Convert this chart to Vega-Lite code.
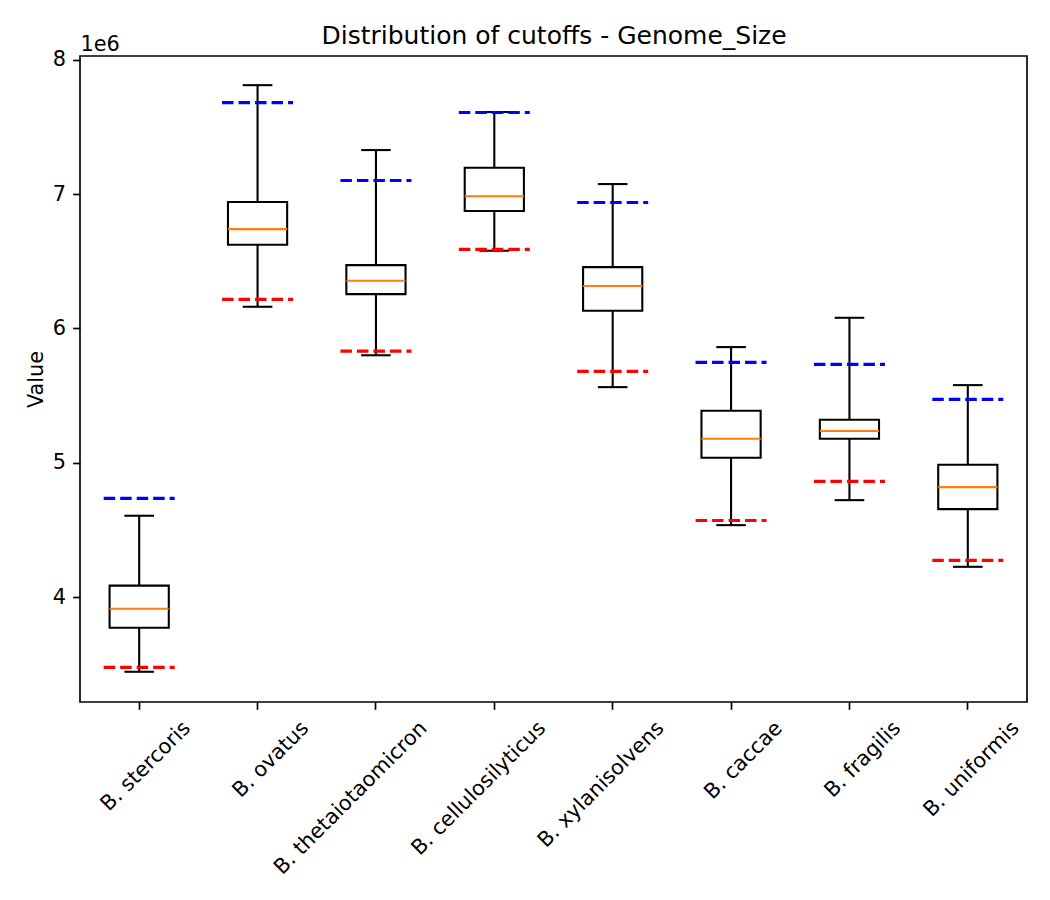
{
  "$schema": "https://vega.github.io/schema/vega-lite/v6.json",
  "width": 947,
  "height": 646,
  "autosize": {"type": "none"},
  "padding": {"left": 80, "top": 56, "right": 23, "bottom": 198},
  "background": "white",
  "data": {
    "values": [
      {"species": "B. stercoris", "whisker_lo": 3445000, "q1": 3772000, "median": 3914000, "q3": 4086000, "whisker_hi": 4606000, "cutoff_lo": 3478000, "cutoff_hi": 4735000},
      {"species": "B. ovatus", "whisker_lo": 6161000, "q1": 6622000, "median": 6739000, "q3": 6940000, "whisker_hi": 7810000, "cutoff_lo": 6216000, "cutoff_hi": 7680000},
      {"species": "B. thetaiotaomicron", "whisker_lo": 5800000, "q1": 6255000, "median": 6354000, "q3": 6471000, "whisker_hi": 7327000, "cutoff_lo": 5831000, "cutoff_hi": 7101000},
      {"species": "B. cellulosilyticus", "whisker_lo": 6578000, "q1": 6873000, "median": 6984000, "q3": 7195000, "whisker_hi": 7610000, "cutoff_lo": 6588000, "cutoff_hi": 7607000},
      {"species": "B. xylanisolvens", "whisker_lo": 5563000, "q1": 6131000, "median": 6315000, "q3": 6456000, "whisker_hi": 7074000, "cutoff_lo": 5680000, "cutoff_hi": 6937000},
      {"species": "B. caccae", "whisker_lo": 4536000, "q1": 5037000, "median": 5179000, "q3": 5387000, "whisker_hi": 5861000, "cutoff_lo": 4571000, "cutoff_hi": 5747000},
      {"species": "B. fragilis", "whisker_lo": 4722000, "q1": 5179000, "median": 5236000, "q3": 5320000, "whisker_hi": 6079000, "cutoff_lo": 4862000, "cutoff_hi": 5732000},
      {"species": "B. uniformis", "whisker_lo": 4226000, "q1": 4655000, "median": 4819000, "q3": 4985000, "whisker_hi": 5578000, "cutoff_lo": 4274000, "cutoff_hi": 5472000}
    ]
  },
  "config": {
    "font": "DejaVu Sans",
    "view": {"stroke": "#000000", "strokeWidth": 1.67},
    "axis": {
      "domain": false,
      "grid": false,
      "tickColor": "#000000",
      "tickWidth": 1.67,
      "tickSize": 7.3,
      "labelColor": "#000000",
      "labelFont": "DejaVu Sans",
      "labelFontSize": 20.83,
      "titleFont": "DejaVu Sans",
      "titleFontSize": 20.83,
      "titleFontWeight": "normal",
      "titleColor": "#000000"
    }
  },
  "resolve": {"axis": {"x": "independent", "y": "independent"}},
  "layer": [
    {
      "mark": {"type": "rule", "stroke": "#000000", "strokeWidth": 2.08},
      "encoding": {
        "x": {
          "field": "species", "type": "nominal", "sort": null, "bandPosition": 0.5,
          "scale": {"type": "band", "paddingInner": 0, "paddingOuter": 0},
          "axis": {
            "orient": "bottom",
            "title": null,
            "bandPosition": 0.5,
            "labelAngle": -45,
            "labelAlign": "right",
            "labelBaseline": "middle",
            "labelOffset": 48,
            "labelPadding": 15.4,
            "labelOverlap": false,
            "labelFlush": false,
            "labelLimit": 500
          }
        },
        "y": {
          "field": "whisker_lo", "type": "quantitative",
          "scale": {"domain": [3220000, 8027000], "nice": false, "zero": false},
          "axis": {
            "orient": "left",
            "values": [4000000, 5000000, 6000000, 7000000, 8000000],
            "labelExpr": "format(datum.value / 1e6, 'd')",
            "labelPadding": 7.3,
            "title": "Value",
            "titleAngle": -90,
            "titleAlign": "center",
            "titleBaseline": "alphabetic",
            "titleX": -38,
            "titleY": 323
          }
        },
        "y2": {"field": "q1"}
      }
    },
    {
      "mark": {"type": "rule", "stroke": "#000000", "strokeWidth": 2.08},
      "encoding": {
        "x": {"field": "species", "type": "nominal", "sort": null, "bandPosition": 0.5, "scale": {"type": "band"}, "axis": null},
        "y": {"field": "q3", "type": "quantitative", "axis": null},
        "y2": {"field": "whisker_hi"}
      }
    },
    {
      "mark": {"type": "rect", "filled": false, "stroke": "#000000", "strokeWidth": 2.08},
      "encoding": {
        "x": {"field": "species", "type": "nominal", "sort": null, "bandPosition": 0.25, "scale": {"type": "band"}, "axis": null},
        "x2": {"field": "species", "bandPosition": 0.75},
        "y": {"field": "q1", "type": "quantitative", "axis": null},
        "y2": {"field": "q3"}
      }
    },
    {
      "mark": {"type": "rule", "stroke": "#000000", "strokeWidth": 2.08},
      "encoding": {
        "x": {"field": "species", "type": "nominal", "sort": null, "bandPosition": 0.375, "scale": {"type": "band"}, "axis": null},
        "x2": {"field": "species", "bandPosition": 0.625},
        "y": {"field": "whisker_lo", "type": "quantitative", "axis": null}
      }
    },
    {
      "mark": {"type": "rule", "stroke": "#000000", "strokeWidth": 2.08},
      "encoding": {
        "x": {"field": "species", "type": "nominal", "sort": null, "bandPosition": 0.375, "scale": {"type": "band"}, "axis": null},
        "x2": {"field": "species", "bandPosition": 0.625},
        "y": {"field": "whisker_hi", "type": "quantitative", "axis": null}
      }
    },
    {
      "mark": {"type": "rule", "stroke": "#ff7f0e", "strokeWidth": 2.08},
      "encoding": {
        "x": {"field": "species", "type": "nominal", "sort": null, "bandPosition": 0.25, "scale": {"type": "band"}, "axis": null},
        "x2": {"field": "species", "bandPosition": 0.75},
        "y": {"field": "median", "type": "quantitative", "axis": null}
      }
    },
    {
      "mark": {"type": "rule", "stroke": "#ff0000", "strokeWidth": 3.1, "strokeDash": [11.5, 5]},
      "encoding": {
        "x": {"field": "species", "type": "nominal", "sort": null, "bandPosition": 0.2, "scale": {"type": "band"}, "axis": null},
        "x2": {"field": "species", "bandPosition": 0.8},
        "y": {"field": "cutoff_lo", "type": "quantitative", "axis": null}
      }
    },
    {
      "mark": {"type": "rule", "stroke": "#0000ff", "strokeWidth": 3.1, "strokeDash": [11.5, 5]},
      "encoding": {
        "x": {
          "field": "species", "type": "nominal", "sort": null, "bandPosition": 0.2, "scale": {"type": "band"},
          "axis": {
            "orient": "top",
            "labels": false,
            "ticks": false,
            "domain": false,
            "title": "Distribution of cutoffs - Genome_Size",
            "titleFontSize": 25,
            "titleAngle": 0,
            "titleAlign": "center",
            "titleBaseline": "alphabetic",
            "titleX": 473.5,
            "titleY": -12.5
          }
        },
        "x2": {"field": "species", "bandPosition": 0.8},
        "y": {
          "field": "cutoff_hi", "type": "quantitative",
          "axis": {
            "orient": "right",
            "labels": false,
            "ticks": false,
            "domain": false,
            "title": "1e6",
            "titleAngle": 0,
            "titleAlign": "left",
            "titleBaseline": "alphabetic",
            "titleX": -947,
            "titleY": -6
          }
        }
      }
    }
  ]
}
